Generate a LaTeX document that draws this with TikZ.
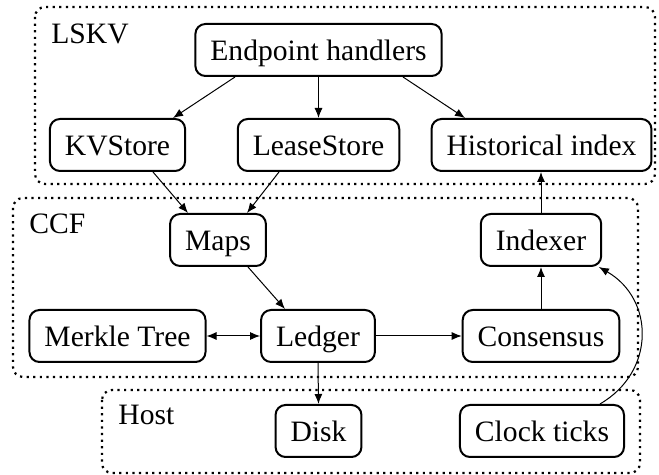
\documentclass[tikz,border=0pt]{standalone}
\usepackage{fontspec}
\setmainfont{Liberation Serif}
\usepackage{tikz}
\usetikzlibrary{arrows.meta,positioning,calc}

\begin{document}
\begin{tikzpicture}[
  x=0.5pt, y=-0.5pt,
  block/.style={draw, line width=1pt, rounded corners=5pt, inner xsep=7.5pt, inner ysep=0pt, text height=11pt, text depth=0pt, minimum height=26pt, font=\fontsize{14.8}{18}\selectfont},
  grouplabel/.style={anchor=base west, inner sep=0pt, font=\fontsize{14.8}{18}\selectfont},
  group/.style={line width=1.1pt, dash pattern=on 1.1pt off 2.2pt, rounded corners=5pt},
  arr/.style={-{Latex[length=5pt,width=4pt]}, line width=0.5pt}
]
  \useasboundingbox (0,0) rectangle (659,475);

  \draw[group] (35,7) rectangle (655,184);
  \draw[group] (13,198) rectangle (638,377);
  \draw[group] (102,390) rectangle (640,473);

  \node[grouplabel] (lskvlbl) at (51,44) {LSKV};
  \node[grouplabel] (ccflbl) at (29,234) {CCF};
  \node[grouplabel] (hostlbl) at (118,425) {Host};

  \node[block] (eh) at (318.5,50) {Endpoint handlers};
  \node[block] (kv) at (117.5,145) {KVStore};
  \node[block] (lease) at (318.5,145) {LeaseStore};
  \node[block] (hist) at (541.5,145) {Historical index};

  \node[block] (maps) at (218,240) {Maps};
  \node[block] (indexer) at (541,240) {Indexer};
  \node[block] (merkle) at (117.5,336) {Merkle Tree};
  \node[block] (ledger) at (318,336) {Ledger};
  \node[block] (consensus) at (541,336) {Consensus};

  \node[block] (disk) at (318.5,431) {Disk};
  \node[block] (clock) at (542,431) {Clock ticks};

  \draw[arr] ($(eh.south)+(-83.5,0)$) -- ($(kv.north)+(55.5,0)$);
  \draw[arr] (eh.south) -- (lease.north);
  \draw[arr] ($(eh.south)+(84.5,0)$) -- ($(hist.north)+(-76.5,0)$);
  \draw[arr] ($(kv.south)+(35.5,0)$) -- ($(maps.north)+(-30,0)$);
  \draw[arr] ($(lease.south)+(-39.5,0)$) -- ($(maps.north)+(29,0)$);
  \draw[arr] ($(maps.south)+(30,0)$) -- ($(ledger.north)+(-33,0)$);
  \draw[arr, {Latex[length=5pt,width=4pt]}-{Latex[length=5pt,width=4pt]}] (merkle.east) -- (ledger.west);
  \draw[arr] (ledger.east) -- (consensus.west);
  \draw[arr] (ledger.south) -- (disk.north);
  \draw[arr] (consensus.north) -- (indexer.south);
  \draw[arr] (indexer.north) -- (hist.south -| indexer.north);
  \draw[arr] (clock.25) to[out=30, in=-30, looseness=1.2] (indexer.-25);
\end{tikzpicture}
\end{document}
